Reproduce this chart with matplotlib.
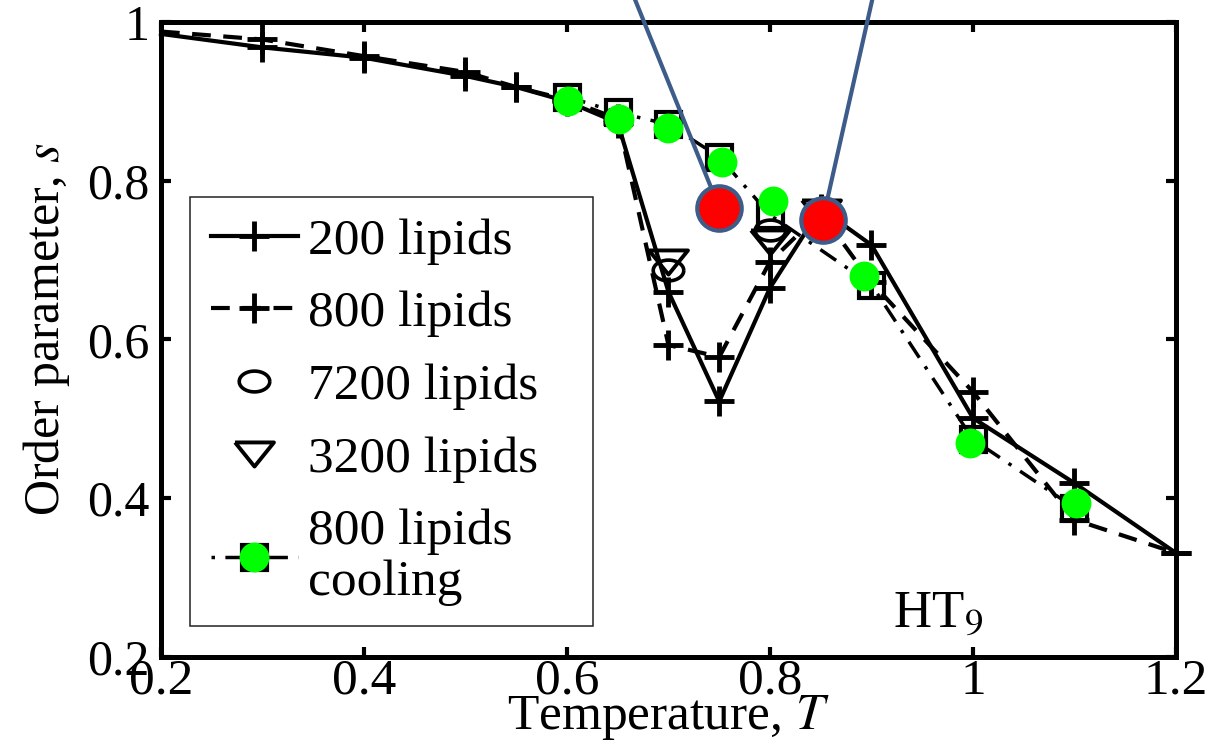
import matplotlib
matplotlib.use('Agg')
import matplotlib.pyplot as plt
import numpy as np
from matplotlib.lines import Line2D

plt.rcParams['font.family'] = ['Liberation Serif', 'DejaVu Serif']
plt.rcParams['mathtext.fontset'] = 'stix'

# ---- data ----
T_200 = [0.2, 0.3, 0.4, 0.5, 0.55, 0.6, 0.65, 0.7, 0.75, 0.8, 0.85, 0.9, 1.0, 1.1, 1.2]
s_200 = [0.985, 0.968, 0.955, 0.932, 0.918, 0.900, 0.873, 0.660, 0.522, 0.665, 0.765, 0.719, 0.501, 0.419, 0.331]

T_800 = [0.2, 0.3, 0.4, 0.5, 0.55, 0.6, 0.65, 0.7, 0.75, 0.8, 0.85, 0.9, 1.0, 1.1, 1.2]
s_800 = [0.988, 0.978, 0.957, 0.937, 0.918, 0.902, 0.878, 0.593, 0.578, 0.698, 0.760, 0.672, 0.534, 0.373, 0.331]

T_7200 = [0.7, 0.8]
s_7200 = [0.688, 0.738]

T_3200 = [0.7, 0.8, 0.85]
s_3200 = [0.698, 0.723, 0.760]

T_cool = [0.6, 0.65, 0.7, 0.75, 0.8, 0.9, 1.0, 1.1]
s_cool = [0.906, 0.886, 0.871, 0.830, 0.757, 0.669, 0.474, 0.388]

# green overlay dots on the cooling run
T_green = [0.601, 0.651, 0.70, 0.753, 0.803, 0.893, 0.997, 1.101]
s_green = [0.901, 0.878, 0.866, 0.824, 0.775, 0.680, 0.470, 0.394]

# red highlight dots and the ends of their leader lines
T_red = [0.75, 0.852]
s_red = [0.766, 0.751]
T_lead = [0.663, 0.903]
s_lead = [1.041, 1.041]

xticks = [0.2, 0.4, 0.6, 0.8, 1.0, 1.2]
xticklabels = ['0.2', '0.4', '0.6', '0.8', '1', '1.2']
yticks = [0.2, 0.4, 0.6, 0.8, 1.0]
yticklabels = ['0.2', '0.4', '0.6', '0.8', '1']

# ---- marker shapes (MATLAB-ish, a bit wide) ----
t = np.linspace(0, 2 * np.pi, 60)
ellipse = np.column_stack([np.cos(t), 0.68 * np.sin(t)])
tri_down = [(-1, 0.62), (1, 0.62), (0, -0.62), (-1, 0.62)]

blue = '#3E5C8A'
green = '#00FF00'
dash = (0, (4.5, 3))
dashdot = (0, (5.5, 3, 1, 3))

fig = plt.figure(figsize=(12.12, 7.51), dpi=100)
ax = fig.add_axes([0.1328, 0.1252, 0.8375, 0.8455])

plus_kw = dict(color='k', marker='+', ms=21, mew=3.5, lw=3, clip_on=False)
ax.plot(T_200, s_200, ls='-', markevery=range(1, len(T_200)), zorder=3, **plus_kw)
ax.plot(T_800, s_800, ls=dash, markevery=range(1, len(T_800)), zorder=3, **plus_kw)
ax.plot(T_7200, s_7200, ls='none', marker=ellipse, ms=22, mew=2.6,
        mfc='none', mec='k', zorder=4)
ax.plot(T_3200, s_3200, ls='none', marker=tri_down, ms=28, mew=2.8,
        mfc='none', mec='k', zorder=4)
ax.plot(T_cool, s_cool, color='k', ls=dashdot, lw=2.5,
        marker='s', ms=18, mew=3, mfc='none', mec='k', zorder=4)
ax.plot(T_green, s_green, ls='none', marker='o', ms=21.5, mfc=green,
        mec='none', zorder=5)

# leader lines + red highlights
for tx, sx, tl, sl in zip(T_red, s_red, T_lead, s_lead):
    ax.plot([tx, tl], [sx, sl], color=blue, lw=3, clip_on=False, zorder=6)
ax.plot(T_red, s_red, ls='none', marker='o', ms=32, mfc='red', mec=blue,
        mew=3, zorder=7)

ax.set_xlim(0.2, 1.2)
ax.set_ylim(0.2, 1.0)
ax.set_xticks(xticks)
ax.set_xticklabels(xticklabels)
ax.set_yticks(yticks)
ax.set_yticklabels(yticklabels)
ax.tick_params(direction='in', length=7, width=3, top=True, right=True)
ax.tick_params(axis='x', labelsize=37, pad=1)
ax.tick_params(axis='y', labelsize=36, pad=8)
for sp in ax.spines.values():
    sp.set_linewidth(3.6)

ax.set_xlabel('Temperature, $T$', fontsize=37)
ax.xaxis.set_label_coords(0.5, -0.056)
ax.set_ylabel('Order parameter, $s$', fontsize=36)
ax.yaxis.set_label_coords(-0.0877, 0.517)

ax.text(0.921, 0.237, 'HT$_9$', fontsize=38, va='baseline')

# legend
h200 = Line2D([], [], color='k', ls='-', lw=3, marker='+', ms=21, mew=3.5)
h800 = Line2D([], [], color='k', ls=dash, lw=3, marker='+', ms=21, mew=3.5)
h7200 = Line2D([], [], ls='none', marker=ellipse, ms=22, mew=2.6, mfc='none', mec='k')
h3200 = Line2D([], [], ls='none', marker=tri_down, ms=28, mew=2.8, mfc='none', mec='k')
hcool = Line2D([], [], color='k', ls=(8.5, (5.5, 3, 1, 3)), lw=2.5, marker='s',
               ms=18, mew=3, mfc='none', mec='k')
hgreen = Line2D([], [], ls='none', marker='o', ms=21.5, mfc=green, mec='none')
leg = ax.legend([h200, h800, h7200, h3200, (hcool, hgreen)],
                ['200 lipids', '800 lipids', '7200 lipids', '3200 lipids',
                 '800 lipids\ncooling'],
                loc='upper left', bbox_to_anchor=(0.0286, 0.0425, 0.397, 0.6815),
                mode='expand', borderaxespad=0, fontsize=37, handlelength=1.7,
                handletextpad=0.2, labelspacing=0.5, borderpad=0.4,
                fancybox=False, edgecolor='#222222', framealpha=1)
leg.get_frame().set_linewidth(1.1)
for txt in leg.get_texts():
    txt.set_linespacing(1.12)

fig.savefig('out.png', dpi=100)
